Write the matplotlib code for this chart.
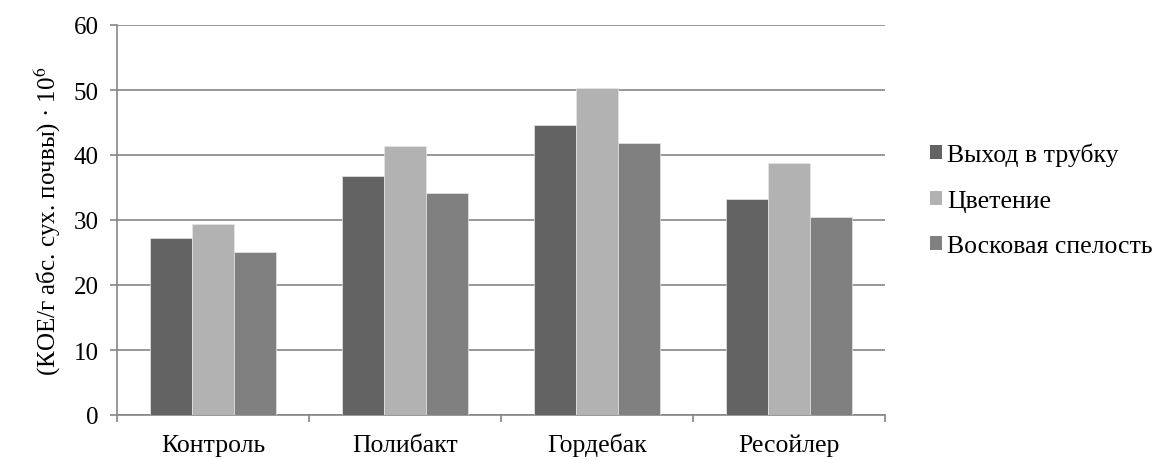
import numpy as np
import matplotlib
matplotlib.use("Agg")
import matplotlib.pyplot as plt
from matplotlib.patches import Patch

categories = ["Контроль", "Полибакт", "Гордебак", "Ресойлер"]
series_names = ["Выход в трубку", "Цветение", "Восковая спелость"]
vyhod = [27.2, 36.8, 44.6, 33.2]
cvetenie = [29.4, 41.4, 50.3, 38.8]
voskovaya = [25.1, 34.2, 41.8, 30.5]
colors = ["#636363", "#b2b2b2", "#808080"]

plt.rcParams["font.family"] = ["Liberation Serif", "DejaVu Serif"]
plt.rcParams["mathtext.fontset"] = "stix"
grid_c = "#868686"

fig = plt.figure(figsize=(11.6, 4.6), dpi=100)
ax = fig.add_axes([117 / 1160, 1 - 416 / 460, (885 - 117) / 1160, (416 - 26) / 460])

x = np.arange(len(categories))
w = 0.22
for i, vals in enumerate([vyhod, cvetenie, voskovaya]):
    ax.bar(x + (i - 1) * w, vals, width=w, color=colors[i],
           edgecolor="#e6e6e6", linewidth=0.5, zorder=3, label=series_names[i])

ax.set_xlim(-0.5, 3.5)
ax.set_ylim(0, 60)
ax.set_yticks(range(0, 61, 10))
ax.yaxis.grid(True, color=grid_c, linewidth=1.2, zorder=0)
ax.set_axisbelow(True)

ax.set_xticks(x)
ax.set_xticklabels(categories, fontsize=18.5, va="baseline")
ax.set_xticks(np.arange(-0.5, 4, 1), minor=True)
ax.tick_params(axis="x", which="major", length=0, pad=26)
ax.tick_params(axis="x", which="minor", length=5, color=grid_c, width=1.2, direction="out")
ax.tick_params(axis="y", length=5, color=grid_c, width=1.2, direction="out", pad=8, labelsize=18)

for s in ["top", "right"]:
    ax.spines[s].set_visible(False)
for s in ["left", "bottom"]:
    ax.spines[s].set_color(grid_c)
    ax.spines[s].set_linewidth(1.2)

ax.set_ylabel("(КОЕ/г абс. сух. почвы) · 10$^{6}$", fontsize=18, labelpad=8)

handles = [Patch(facecolor=c, edgecolor="none") for c in colors]
fig.legend(handles, series_names, loc="center left", bbox_to_anchor=(920 / 1160, 1 - 201 / 460),
           frameon=False, fontsize=18.5, handlelength=0.45, handleheight=0.45,
           handletextpad=0.2, labelspacing=0.92, borderaxespad=0)

fig.savefig("out.png", dpi=100)
